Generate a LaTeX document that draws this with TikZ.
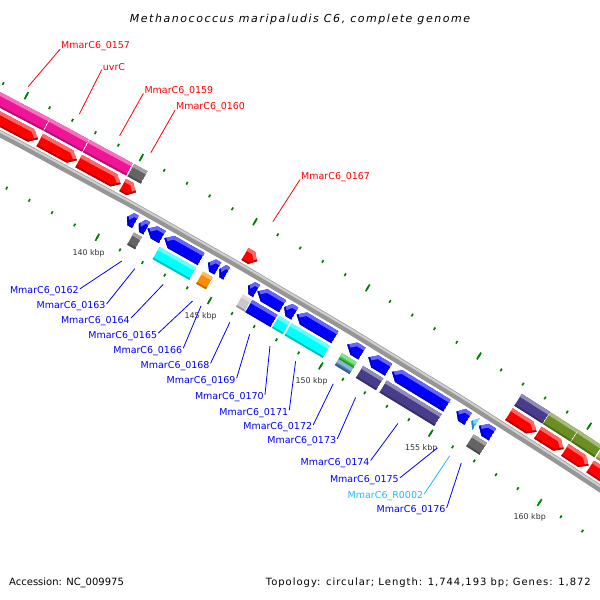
\documentclass[tikz,border=0pt]{standalone}
\usepackage{fontspec}
\setmainfont{DejaVu Sans}
\newfontfamily\titlefont[LetterSpace=14]{DejaVu Sans}
\newfontfamily\infofont[LetterSpace=9.8]{DejaVu Sans}
\definecolor{cdsred}{RGB}{255,0,0}
\definecolor{cdsblue}{RGB}{0,0,255}
\definecolor{genepink}{RGB}{240,20,150}
\definecolor{coggray}{RGB}{100,100,100}
\definecolor{coglight}{RGB}{200,200,200}
\definecolor{cogcyan}{RGB}{0,255,255}
\definecolor{cogorange}{RGB}{255,140,0}
\definecolor{coggreen}{RGB}{50,205,50}
\definecolor{cogsteel}{RGB}{70,130,180}
\definecolor{cogslate}{RGB}{72,61,139}
\definecolor{cogolive}{RGB}{107,142,35}
\definecolor{cogkhaki}{RGB}{189,183,107}
\definecolor{trnacyan}{RGB}{30,190,250}
\definecolor{tickgreen}{RGB}{0,128,0}
\definecolor{ruler}{RGB}{150,150,150}
\def\fht{7}
\def\gsplit#1,#2\relax{\def\gk{#1}\def\gh{#2}}
\tikzdeclarecoordinatesystem{g}{\gsplit#1\relax
  \pgfmathsetmacro\gang{90-0.206399*(\gk)}%
  \pgfmathsetmacro\grad{7157+(\gh)}%
  \pgfpointxy{-3361+\grad*cos(\gang)}{-6503+\grad*sin(\gang)}}
\newcommand\feature[5]{%
  \pgfmathsetmacro\fa{#1}\pgfmathsetmacro\fb{#2}%
  \pgfmathsetmacro\fhead{#5==3 ? #2-#1 : min(0.3,0.45*(#2-#1))}%
  \pgfmathsetmacro\fc{\fb-\fhead}\pgfmathsetmacro\fd{\fa+\fhead}%
  \pgfmathsetmacro\hin{#3-\fht}\pgfmathsetmacro\hout{#3+\fht}%
  \def\hmid{#3}%
  \ifnum#5=3 \def\fdir{2}\else\def\fdir{#5}\fi
  \ifcase\fdir
    \def\fpath{(g cs:\fa,\hin) -- (g cs:\fb,\hin) -- (g cs:\fb,\hout) -- (g cs:\fa,\hout) -- cycle}%
    \def\ftop{(g cs:\fa,\hout) -- (g cs:\fb,\hout)}%
    \def\fbot{(g cs:\fa,\hin) -- (g cs:\fb,\hin)}%
  \or
    \def\fpath{(g cs:\fa,\hin) -- (g cs:\fc,\hin) -- (g cs:\fb,\hmid) -- (g cs:\fc,\hout) -- (g cs:\fa,\hout) -- cycle}%
    \def\ftop{(g cs:\fa,\hout) -- (g cs:\fc,\hout) -- (g cs:\fb,\hmid)}%
    \def\fbot{(g cs:\fa,\hin) -- (g cs:\fc,\hin) -- (g cs:\fb,\hmid)}%
  \or
    \def\fpath{(g cs:\fa,\hmid) -- (g cs:\fd,\hin) -- (g cs:\fb,\hin) -- (g cs:\fb,\hout) -- (g cs:\fd,\hout) -- cycle}%
    \def\ftop{(g cs:\fa,\hmid) -- (g cs:\fd,\hout) -- (g cs:\fb,\hout)}%
    \def\fbot{(g cs:\fa,\hmid) -- (g cs:\fd,\hin) -- (g cs:\fb,\hin)}%
  \fi
  \begin{scope}
    \clip \fpath;
    \fill[#4] \fpath;
    \draw[line width=7pt,#4!60!white] \ftop;
    \draw[line width=3.5pt,#4!75!black] \fbot;
  \end{scope}}
\begin{document}
\begin{tikzpicture}[x=1pt,y=1pt,line cap=round,line join=round,
  tickmark/.style={tickgreen,line width=1.7pt,line cap=butt},
  ticklabel/.style={font=\fontsize{7.9}{9}\selectfont,text={rgb,255:red,50;green,50;blue,50},inner sep=0pt},
  lbl/.style={font=\fontsize{9.5}{11}\selectfont,inner sep=1pt},
  redln/.style={cdsred,line width=0.8pt},
  blueln/.style={cdsblue,line width=0.8pt}]
\fill[white] (0,0) rectangle (600,-600);
\useasboundingbox (0,0) rectangle (600,-600);
\begin{scope}
\clip (0,0) rectangle (600,-600);
\draw[ruler,line width=7pt,line cap=butt] plot[domain=126:170,samples=90] (g cs:\x,45);
\draw[ruler!45!white,line width=2pt,line cap=butt] plot[domain=126:170,samples=90] (g cs:\x,46.8);
\foreach \k in {128,...,168}{
  \draw[tickmark] (g cs:\k,89.5) -- (g cs:\k,92.5);
  \draw[tickmark] (g cs:\k,-1.5) -- (g cs:\k,1.5);}
\foreach \k in {130,135,...,165}{
  \draw[tickmark] (g cs:\k,87) -- (g cs:\k,95);
  \draw[tickmark] (g cs:\k,-4) -- (g cs:\k,4);}
\feature{133.6}{136.2}{75}{genepink}{0}
\feature{136.23}{137.9}{75}{genepink}{0}
\feature{137.93}{139.82}{75}{genepink}{0}
\feature{139.88}{140.46}{75}{coggray}{0}
\feature{157.16}{158.44}{75}{cogslate}{0}
\feature{158.47}{159.72}{75}{cogolive}{0}
\feature{159.75}{160.82}{75}{cogolive}{0}
\feature{160.88}{162.5}{75}{cogkhaki}{0}
\feature{133.6}{136.18}{58}{cdsred}{1}
\feature{136.25}{137.88}{58}{cdsred}{1}
\feature{137.95}{139.8}{58}{cdsred}{1}
\feature{139.88}{140.46}{58}{cdsred}{1}
\feature{145.28}{145.83}{58}{cdsred}{1}
\feature{157.16}{158.42}{58}{cdsred}{1}
\feature{158.48}{159.66}{58}{cdsred}{1}
\feature{159.72}{160.81}{58}{cdsred}{1}
\feature{160.88}{162.5}{58}{cdsred}{1}
\feature{140.62}{141.0}{32}{cdsblue}{2}
\feature{141.15}{141.5}{32}{cdsblue}{2}
\feature{141.53}{142.19}{32}{cdsblue}{2}
\feature{142.28}{143.92}{32}{cdsblue}{2}
\feature{144.22}{144.66}{32}{cdsblue}{2}
\feature{144.72}{145.05}{32}{cdsblue}{2}
\feature{146.0}{146.38}{32}{cdsblue}{2}
\feature{146.42}{147.55}{32}{cdsblue}{2}
\feature{147.62}{148.1}{32}{cdsblue}{2}
\feature{148.18}{149.9}{32}{cdsblue}{2}
\feature{150.45}{151.12}{32}{cdsblue}{2}
\feature{151.4}{152.32}{32}{cdsblue}{2}
\feature{152.48}{154.97}{32}{cdsblue}{2}
\feature{155.4}{155.93}{32}{cdsblue}{2}
\feature{156.08}{156.3}{32}{trnacyan}{3}
\feature{156.43}{157.05}{32}{cdsblue}{2}
\feature{141.15}{141.5}{15}{coggray}{0}
\feature{142.28}{143.92}{15}{cogcyan}{0}
\feature{144.22}{144.66}{15}{cogorange}{0}
\feature{146.0}{146.38}{15}{coglight}{0}
\feature{146.42}{147.55}{15}{cdsblue}{0}
\feature{147.62}{148.1}{15}{cogcyan}{0}
\feature{148.18}{149.9}{15}{cogcyan}{0}
\def\fht{3.5}
\feature{150.45}{151.12}{18.5}{coggreen}{0}
\feature{150.45}{151.12}{11.5}{cogsteel}{0}
\def\fht{7}
\feature{151.4}{152.32}{15}{cogslate}{0}
\feature{152.48}{154.97}{15}{cogslate}{0}
\feature{156.43}{157.05}{15}{coggray}{0}
\foreach \k in {140,145,...,160}
  \node[ticklabel] (kbp\k) at (g cs:\k,-18) {\k\ kbp};
\end{scope}
\foreach \n/\k/\x/\y in {0157/134.9/60/48.7,0159/138.87/143.3/93,0160/140.23/175/109.7,0167/145.59/300/179}{
  \node[lbl,anchor=base west,text=cdsred] (l\n) at (\x,-\y) {MmarC6\_\n};
  \coordinate (e\n) at (g cs:\k,100);
  \draw[redln] ([yshift=-3pt]l\n.west) -- (e\n);}
\node[lbl,anchor=base west,text=cdsred] (luvrC) at (101.7,-70.3) {uvrC};
\coordinate (euvrC) at (g cs:137.12,100);
\draw[redln] ([yshift=-3pt]luvrC.west) -- (euvrC);
\foreach \n/\k/\x/\y in {0162/141.27/80/293.7,0163/141.86/106.7/308.7,0164/143.12/131/323,
  0165/144.43/158.3/338,0166/144.81/183.3/353,0168/146.1/210.7/368,0169/147.0/236.7/383,
  0170/147.91/265/399.5,0171/149.07/289.3/415,0172/150.77/313.3/429.7,0173/151.79/337.3/443.7,
  0174/153.72/370.7/465.3,0175/155.52/400/482.7,0176/156.62/446.7/512.7}{
  \node[lbl,anchor=base east,text=cdsblue] (l\n) at (\x,-\y) {MmarC6\_\n};
  \coordinate (e\n) at (g cs:\k,-9);
  \draw[blueln] ([yshift=2.5pt]l\n.east) -- (e\n);}
\node[lbl,anchor=base east,text=trnacyan] (lR0002) at (424.3,-498.7) {MmarC6\_R0002};
\coordinate (eR0002) at (g cs:156.09,-9);
\draw[trnacyan,line width=0.8pt] ([yshift=2.5pt]lR0002.east) -- (eR0002);
\node[anchor=base,inner sep=0pt,font=\titlefont\itshape\fontsize{11}{13}\selectfont] (title) at (300,-22) {Methanococcus maripaludis C6, complete genome};
\node[anchor=base west,inner sep=0pt,font=\fontsize{10}{12}\selectfont] (acc) at (9,-585) {Accession: NC\_009975};
\node[anchor=base east,inner sep=0pt,font=\infofont\fontsize{10}{12}\selectfont] (topo) at (591,-585) {Topology: circular; Length: 1,744,193 bp; Genes: 1,872};
\end{tikzpicture}
\end{document}
